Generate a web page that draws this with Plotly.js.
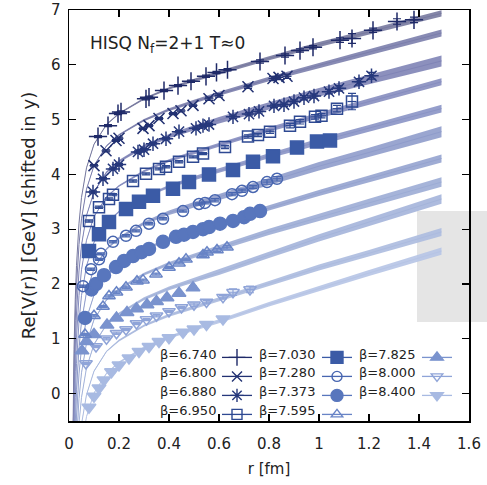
<!DOCTYPE html>
<html><head><meta charset="utf-8">
<script src="https://cdn.plot.ly/plotly-3.0.1.min.js"></script>
<style>html,body{margin:0;padding:0;background:#fff}</style>
</head><body>
<div id="chart" style="width:487px;height:485px"></div>
<script>
// ---- labels ----
const betaLabels = ['β=6.740','β=6.800','β=6.880','β=6.950','β=7.030','β=7.280','β=7.373','β=7.595','β=7.825','β=8.000','β=8.400'];
const xTickVals = [0,0.2,0.4,0.6,0.8,1,1.2,1.4,1.6];
const yTickVals = [0,1,2,3,4,5,6,7];

// ---- lattice data (r [fm], V [GeV], error) ----
const r6740 = [0.116,0.156,0.196,0.208,0.308,0.32,0.38,0.436,0.488,0.548,0.59,0.634,0.764,0.864,0.924,0.976,1.084,1.132,1.216,1.312,1.38];
const v6740 = [4.69,4.89,5.11,5.14,5.38,5.41,5.53,5.62,5.70,5.79,5.86,5.91,6.06,6.17,6.26,6.32,6.45,6.48,6.63,6.79,6.82];
const e6740 = [0.02,0.02,0.02,0.02,0.02,0.02,0.02,0.02,0.02,0.02,0.02,0.02,0.03,0.03,0.03,0.03,0.04,0.09,0.04,0.05,0.05];

const r6800 = [0.1,0.148,0.188,0.2,0.296,0.32,0.36,0.416,0.448,0.496,0.56,0.6,0.716,0.816,0.84,0.872];
const v6800 = [4.16,4.43,4.62,4.66,4.84,4.89,5.02,5.11,5.16,5.26,5.38,5.44,5.60,5.75,5.77,5.79];
const e6800 = [0.02,0.02,0.02,0.02,0.02,0.02,0.02,0.02,0.02,0.02,0.03,0.03,0.03,0.04,0.04,0.04];

const r6880 = [0.096,0.136,0.176,0.2,0.276,0.3,0.336,0.388,0.44,0.508,0.536,0.56,0.656,0.72,0.76,0.82,0.86,0.9,0.94,0.98,1.04,1.08,1.16,1.21];
const v6880 = [3.68,3.92,4.10,4.18,4.41,4.45,4.56,4.65,4.78,4.84,4.89,4.91,5.05,5.10,5.15,5.25,5.27,5.33,5.40,5.43,5.51,5.57,5.69,5.80];
const e6880 = [0.02,0.02,0.02,0.02,0.02,0.02,0.02,0.02,0.02,0.02,0.02,0.02,0.03,0.03,0.03,0.03,0.03,0.03,0.04,0.04,0.04,0.05,0.06,0.06];

const r6950 = [0.08,0.12,0.16,0.176,0.256,0.308,0.36,0.388,0.44,0.496,0.536,0.624,0.716,0.756,0.804,0.884,0.924,0.984,1.01,1.072,1.132];
const v6950 = [3.15,3.40,3.55,3.63,3.88,4.01,4.10,4.14,4.23,4.32,4.38,4.50,4.69,4.72,4.78,4.89,4.96,5.05,5.07,5.20,5.33];
const e6950 = [0.02,0.02,0.02,0.02,0.02,0.02,0.02,0.02,0.02,0.02,0.02,0.03,0.03,0.03,0.03,0.04,0.04,0.04,0.04,0.06,0.15];

const r7030 = [0.08,0.12,0.16,0.228,0.28,0.336,0.416,0.48,0.56,0.656,0.736,0.816,0.912,0.992,1.044];
const v7030 = [2.60,2.91,3.13,3.37,3.50,3.61,3.74,3.86,4.00,4.08,4.23,4.33,4.49,4.60,4.62];
const e7030 = [0.02,0.02,0.02,0.02,0.02,0.02,0.02,0.02,0.02,0.03,0.03,0.03,0.04,0.04,0.04];

const r7280 = [0.056,0.088,0.12,0.128,0.176,0.228,0.268,0.32,0.376,0.456,0.52,0.544,0.584,0.652,0.692,0.736,0.792,0.832];
const v7280 = [1.96,2.27,2.45,2.55,2.77,2.88,2.97,3.10,3.19,3.33,3.46,3.48,3.53,3.64,3.70,3.77,3.86,3.92];
const e7280 = [0.02,0.02,0.02,0.02,0.02,0.02,0.02,0.02,0.02,0.02,0.02,0.02,0.03,0.03,0.03,0.03,0.04,0.04];

const r7373 = [0.064,0.09,0.108,0.14,0.188,0.22,0.256,0.29,0.32,0.376,0.428,0.46,0.496,0.536,0.56,0.604,0.656,0.7,0.724,0.764];
const v7373 = [1.38,1.90,2.00,2.16,2.31,2.42,2.51,2.58,2.64,2.77,2.86,2.90,2.95,3.00,3.04,3.10,3.15,3.22,3.28,3.33];
const e7373 = [0.02,0.02,0.02,0.02,0.02,0.02,0.02,0.02,0.02,0.02,0.02,0.02,0.02,0.02,0.02,0.03,0.03,0.03,0.03,0.03];

const r7595 = [0.064,0.1,0.136,0.16,0.19,0.228,0.272,0.296,0.348,0.4,0.44,0.468,0.536,0.552,0.592,0.632];
const v7595 = [1.08,1.42,1.59,1.78,1.85,1.94,2.05,2.07,2.18,2.30,2.38,2.45,2.53,2.58,2.62,2.67];
const e7595 = [0.02,0.02,0.02,0.02,0.02,0.02,0.02,0.02,0.02,0.02,0.02,0.02,0.03,0.03,0.03,0.03];

const r7825 = [0.052,0.07,0.1,0.152,0.19,0.232,0.27,0.312,0.35,0.392,0.44,0.496];
const v7825 = [0.78,0.95,1.08,1.25,1.38,1.48,1.55,1.62,1.68,1.75,1.83,1.93];
const e7825 = [0.02,0.02,0.02,0.02,0.02,0.02,0.02,0.02,0.02,0.02,0.03,0.03];

const r8000 = [0.068,0.108,0.15,0.19,0.228,0.27,0.31,0.35,0.4,0.45,0.5,0.55,0.616,0.656,0.724];
const v8000 = [0.55,0.86,1.00,1.10,1.17,1.28,1.35,1.42,1.50,1.57,1.62,1.67,1.76,1.85,1.90];
const e8000 = [0.02,0.02,0.02,0.02,0.02,0.02,0.02,0.02,0.02,0.02,0.03,0.03,0.03,0.06,0.06];

const r8400 = [0.08,0.1,0.12,0.14,0.17,0.2,0.24,0.28,0.32,0.36,0.4,0.456,0.5,0.55,0.616];
const v8400 = [-0.25,-0.05,0.10,0.25,0.40,0.52,0.65,0.77,0.86,0.95,1.02,1.12,1.18,1.26,1.36];
const e8400 = [0.02,0.02,0.02,0.02,0.02,0.02,0.02,0.02,0.02,0.02,0.02,0.03,0.03,0.03,0.03];

// ---- fit bands: r grid, central values, half widths ----
const bandR = [0.012,0.015,0.02,0.025,0.03,0.04,0.05,0.07,0.1,0.15,0.2,0.3,0.4,0.5,0.6,0.8,1.0,1.2,1.49];
const band6740 = [-2.25,-0.73,0.80,1.72,2.34,3.11,3.58,4.12,4.55,4.91,5.11,5.38,5.57,5.72,5.86,6.12,6.37,6.60,6.94];
const band6800 = [-2.64,-1.12,0.41,1.33,1.95,2.72,3.19,3.73,4.16,4.52,4.72,4.99,5.18,5.33,5.47,5.74,5.99,6.23,6.58];
const band6880 = [-3.12,-1.60,-0.07,0.85,1.47,2.24,2.71,3.25,3.68,4.04,4.24,4.51,4.70,4.85,4.99,5.25,5.50,5.73,6.07];
const band6950 = [-3.57,-2.05,-0.52,0.40,1.02,1.79,2.26,2.80,3.23,3.59,3.79,4.06,4.25,4.40,4.54,4.82,5.08,5.33,5.69];
const band7030 = [-4.04,-2.52,-0.99,-0.07,0.55,1.32,1.79,2.33,2.76,3.12,3.32,3.59,3.78,3.93,4.07,4.34,4.60,4.84,5.20];
const band7280 = [-4.52,-3.00,-1.47,-0.55,0.07,0.84,1.31,1.85,2.28,2.64,2.84,3.11,3.30,3.45,3.59,3.87,4.15,4.40,4.78];
const band7373 = [-5.00,-3.48,-1.95,-1.03,-0.41,0.36,0.83,1.37,1.80,2.16,2.36,2.63,2.82,2.97,3.11,3.39,3.66,3.92,4.29];
const band7595 = [-5.45,-3.93,-2.40,-1.48,-0.86,-0.09,0.38,0.92,1.35,1.71,1.91,2.18,2.37,2.52,2.66,2.95,3.22,3.48,3.86];
const band7825 = [-5.90,-4.38,-2.85,-1.93,-1.31,-0.54,-0.07,0.47,0.90,1.26,1.46,1.73,1.92,2.07,2.21,2.53,2.84,3.13,3.55];
const band8000 = [-6.39,-4.87,-3.34,-2.42,-1.80,-1.03,-0.56,-0.02,0.41,0.77,0.97,1.24,1.43,1.58,1.72,2.01,2.30,2.56,2.95];
const band8400 = [-6.79,-5.27,-3.74,-2.82,-2.20,-1.43,-0.96,-0.42,0.01,0.37,0.57,0.84,1.03,1.18,1.32,1.63,1.92,2.20,2.60];
const bandHalfWidth = [0.004,0.004,0.004,0.005,0.005,0.006,0.007,0.008,0.01,0.013,0.017,0.022,0.028,0.034,0.04,0.047,0.055,0.062,0.072];
const bandWidthScale = [0.8,0.9,1.4,0.9,1.0,1.4,1.0,1.2,1.2,1.0,0.9];

// ---- assemble ----
const seriesR = [r6740,r6800,r6880,r6950,r7030,r7280,r7373,r7595,r7825,r8000,r8400];
const seriesV = [v6740,v6800,v6880,v6950,v7030,v7280,v7373,v7595,v7825,v8000,v8400];
const seriesE = [e6740,e6800,e6880,e6950,e7030,e7280,e7373,e7595,e7825,e8000,e8400];
const bandV = [band6740,band6800,band6880,band6950,band7030,band7280,band7373,band7595,band7825,band8000,band8400];

const colors = ['#1f2a68','#223172','#26387c','#2e4992','#3b5ba6','#4866b0','#5876bd','#6884c6','#7a93ce','#8fa4d8','#a8bae2'];
const bandColors = ['#77799f','#7b7eac','#8084b6','#868dbf','#8a94c5','#8f9ccb','#95a3cf','#9cacd5','#a4b4da','#acbbdf','#b6c4e5'];
const symbols = ['cross-thin-open','x-thin-open','asterisk-open','square-open','square','circle-open','circle','triangle-up-open','triangle-up','triangle-down-open','triangle-down'];
const sizes = [13,11,12,11,13,11,13,11,12,11,12];
const legendOf = ['legend','legend','legend','legend','legend2','legend2','legend2','legend2','legend3','legend3','legend3'];

const traces = [];
// bands
bandV.forEach((vals, i) => {
  const up = vals.map((v, k) => v + bandHalfWidth[k] * bandWidthScale[i]);
  const lo = vals.map((v, k) => v - bandHalfWidth[k] * bandWidthScale[i]);
  traces.push({
    x: bandR.concat(bandR.slice().reverse()),
    y: up.concat(lo.slice().reverse()),
    mode: 'lines', fill: 'toself', fillcolor: bandColors[i],
    line: {width: 0, color: bandColors[i]}, opacity: 0.9,
    showlegend: false, hoverinfo: 'skip'
  });
  traces.push({
    x: bandR, y: vals, mode: 'lines',
    line: {width: 1, color: bandColors[i]},
    showlegend: false, hoverinfo: 'skip'
  });
});
// data points
for (let i = seriesR.length - 1; i >= 0; i--) {
  traces.push({
    x: seriesR[i], y: seriesV[i], mode: 'markers', name: betaLabels[i],
    showlegend: false,
    marker: {symbol: symbols[i], size: sizes[i], color: colors[i], line: {width: 1.5, color: colors[i]}},
    error_y: {type: 'data', array: seriesE[i], visible: true, color: colors[i], thickness: 1.2, width: 4},
    error_x: {type: 'constant', value: 0.018, visible: true, color: colors[i], thickness: 1.2, width: 0}
  });
}
// legend samples
for (let i = 0; i < seriesR.length; i++) {
  traces.push({
    x: [null], y: [null], mode: 'lines+markers', name: ' ',
    legend: legendOf[i], showlegend: true,
    line: {color: colors[i], width: 1.3},
    marker: {symbol: symbols[i], size: sizes[i] - 1, color: colors[i], line: {width: 1.4, color: colors[i]}}
  });
}

const font = 'DejaVu Sans, Liberation Sans, Arial, sans-serif';
const legendRowY = [0.163, 0.117, 0.071, 0.025];
const legendTextX = [0.3725, 0.62, 0.87];
const annotations = [{
  xref: 'paper', yref: 'paper', x: 0.048, y: 0.915, xanchor: 'left', yanchor: 'middle',
  text: 'HISQ N<sub>f</sub>=2+1 T≈0', showarrow: false, font: {family: font, size: 17, color: '#222'}
}];
betaLabels.forEach((t, i) => {
  const col = Math.floor(i / 4), row = i % 4;
  annotations.push({
    xref: 'paper', yref: 'paper', x: legendTextX[col], y: legendRowY[row],
    xanchor: 'right', yanchor: 'middle', text: t, showarrow: false,
    font: {family: font, size: 13, color: '#222'}
  });
});

const legendBase = {yanchor: 'top', xanchor: 'left', y: 0.19, bgcolor: 'rgba(0,0,0,0)',
  font: {family: font, size: 12}, itemwidth: 30, traceorder: 'normal'};

const axisCommon = {
  showline: true, linecolor: '#000', linewidth: 1.5, mirror: 'allticks',
  ticks: 'inside', ticklen: 7, tickwidth: 1.2, tickcolor: '#000',
  showgrid: false, zeroline: false,
  tickfont: {family: font, size: 15, color: '#222'}
};

const layout = {
  width: 487, height: 485,
  margin: {l: 69, r: 18, t: 10, b: 64},
  paper_bgcolor: '#fff', plot_bgcolor: '#fff',
  font: {family: font, color: '#222'},
  xaxis: Object.assign({}, axisCommon, {
    range: [0, 1.6], tickvals: xTickVals, ticklabelstandoff: 8,
    title: {text: 'r [fm]', font: {family: font, size: 15, color: '#222'}, standoff: 12}
  }),
  yaxis: Object.assign({}, axisCommon, {
    range: [-0.5, 7], tickvals: yTickVals, ticklabelstandoff: 4,
    title: {text: 'Re[V(r)] [GeV] (shifted in y)', font: {family: font, size: 18, color: '#222'}, standoff: 10}
  }),
  showlegend: true,
  legend: Object.assign({}, legendBase, {x: 0.37}),
  legend2: Object.assign({}, legendBase, {x: 0.62}),
  legend3: Object.assign({}, legendBase, {x: 0.87}),
  shapes: [{
    type: 'rect', xref: 'paper', yref: 'paper', x0: 0.87, x1: 1.05, y0: 0.241, y1: 0.511,
    fillcolor: '#e5e5e5', line: {width: 0}, layer: 'below'
  }],
  annotations: annotations
};

Plotly.newPlot('chart', traces, layout, {displayModeBar: false, staticPlot: true});
</script>
</body></html>
